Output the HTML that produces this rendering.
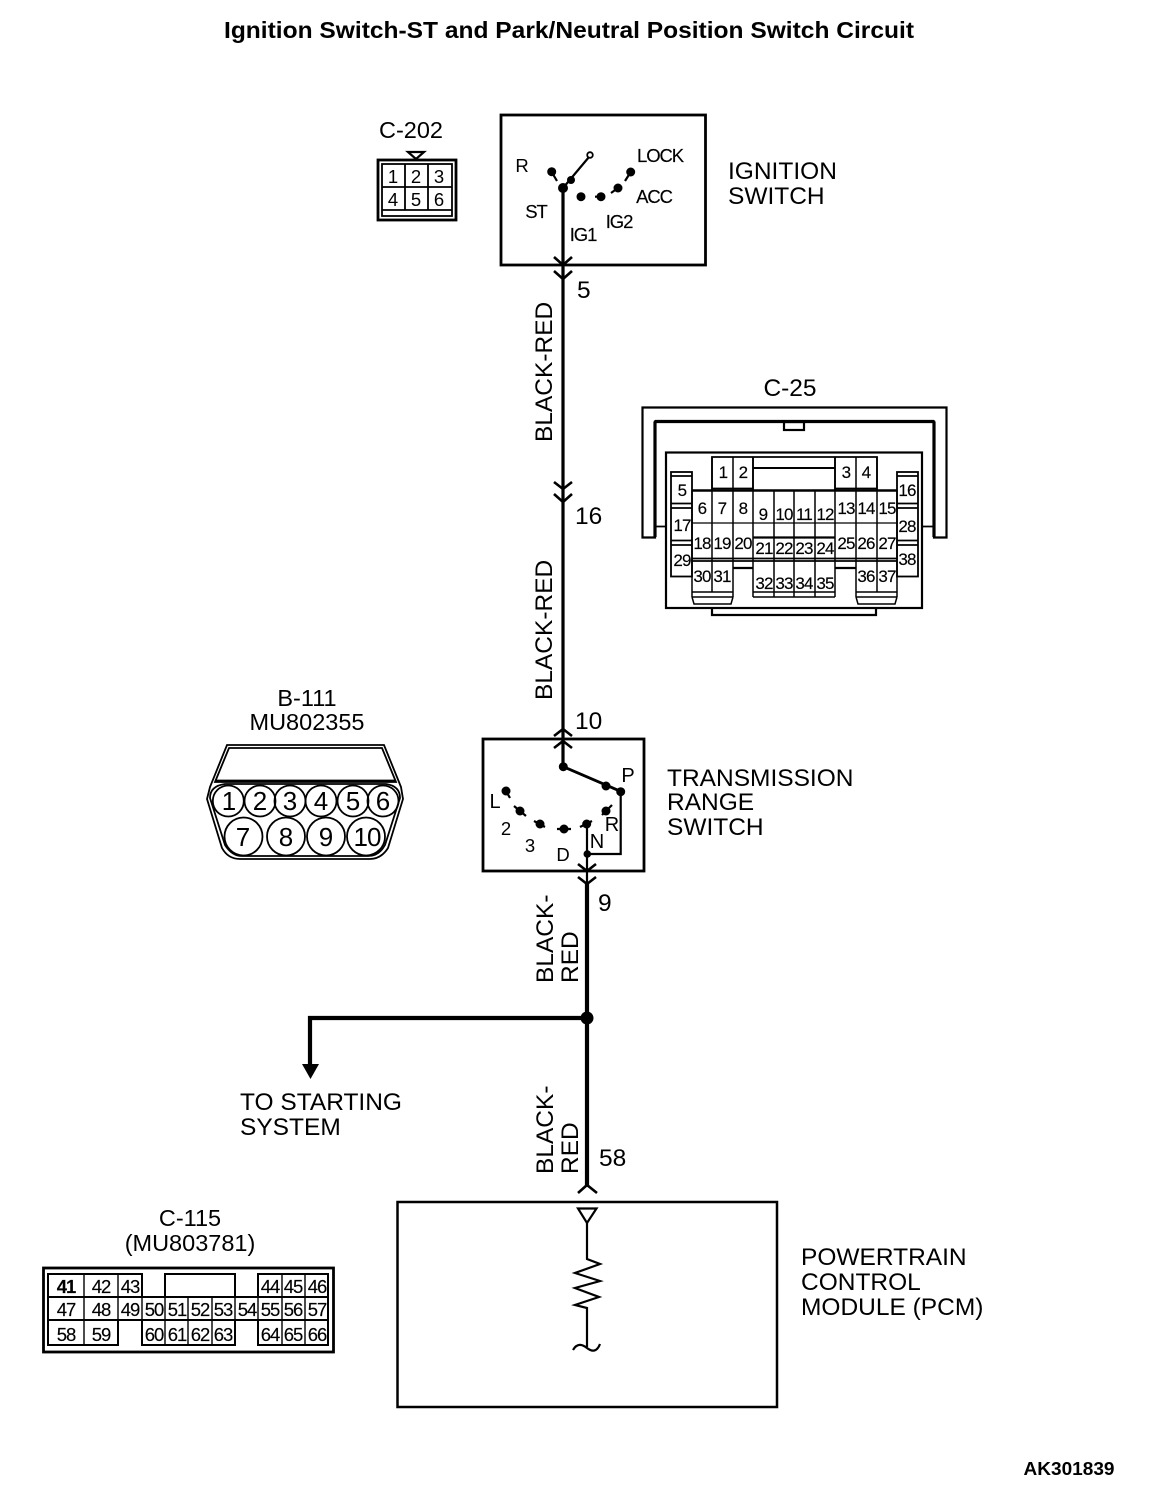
<!DOCTYPE html>
<html><head><meta charset="utf-8"><style>
html,body{margin:0;padding:0;background:#fff}
svg{display:block}
text{font-family:"Liberation Sans",sans-serif;fill:#000;stroke:none}
.l{font-size:24.500px}.c{font-size:24.500px;text-anchor:middle}
.s{font-size:18.500px;text-anchor:middle}
.t{font-size:17px;text-anchor:middle;letter-spacing:-.8px;stroke:#000;stroke-width:.15px}
.u{font-size:18.500px;text-anchor:middle;letter-spacing:-1.100px;stroke:#000;stroke-width:.15px}
.n{fill:none;stroke:#000}
</style></head><body>
<svg width="1152" height="1502" viewBox="0 0 1152 1502" xmlns="http://www.w3.org/2000/svg">
<rect width="1152" height="1502" fill="#fff"/>
<text x="569" y="38" text-anchor="middle" font-weight="bold" textLength="690" lengthAdjust="spacingAndGlyphs" style="font-size:23.500px">Ignition Switch-ST and Park/Neutral Position Switch Circuit</text>
<text x="1069" y="1475" text-anchor="middle" font-weight="bold" style="font-size:18px" textLength="91" lengthAdjust="spacingAndGlyphs">AK301839</text>

<!-- C-202 -->
<text class="c" x="411" y="138" style="font-size:23.500px">C-202</text>
<path d="M408 152H424L416 159Z" class="n" stroke-width="2.200"/>
<rect x="378" y="160" width="78" height="60" class="n" stroke-width="2.800"/>
<rect x="382" y="164" width="70" height="52" class="n" stroke-width="1.800"/>
<path d="M382 187H452M382 210H452M405 164V210M428 164V210" class="n" stroke-width="1.800"/>
<text class="s" x="393" y="183">1</text><text class="s" x="416" y="183">2</text><text class="s" x="439" y="183">3</text>
<text class="s" x="393" y="206">4</text><text class="s" x="416" y="206">5</text><text class="s" x="439" y="206">6</text>

<!-- Ignition switch -->
<rect x="501" y="115" width="204.500" height="150" class="n" stroke-width="2.800"/>
<path d="M563 188L589 157M551.700 172L557 181M581 196.700H584M595 196.700H601M618 188L611 193M630.700 172L625 181" class="n" stroke-width="2.200"/>
<circle cx="590" cy="155" r="2.800" class="n" stroke-width="1.800"/>
<g fill="#000"><circle cx="563" cy="188" r="5"/><circle cx="571" cy="180" r="4"/><circle cx="551.700" cy="171.700" r="4.500"/><circle cx="581" cy="196.700" r="4.500"/><circle cx="601" cy="196.700" r="4.500"/><circle cx="618" cy="188" r="4.500"/><circle cx="630.700" cy="172" r="4.500"/></g>
<text class="s" x="522" y="172">R</text>
<text class="u" x="536" y="218">ST</text>
<text class="u" x="583" y="241">IG1</text>
<text class="u" x="619" y="228">IG2</text>
<text class="u" x="654" y="203">ACC</text>
<text class="u" x="660" y="162">LOCK</text>
<text class="l" x="728" y="179">IGNITION</text>
<text class="l" x="728" y="204">SWITCH</text>

<!-- Main wire -->
<path d="M563 188V766" class="n" stroke-width="3.200"/>
<path d="M554 257L563 265L572 257M554 271L563 279L572 271M554 482L563 489L572 482M554 494L563 502L572 494M554 736L563 729L572 736M554 748L563 741L572 748" class="n" stroke-width="2.600"/>
<text class="l" x="577" y="298">5</text>
<text class="l" x="575" y="524">16</text>
<text class="l" x="575" y="729">10</text>
<text class="l" x="598" y="911">9</text>
<text class="l" x="599" y="1166">58</text>
<text class="l" transform="translate(552 442) rotate(-90)">BLACK-RED</text>
<text class="l" transform="translate(552 700) rotate(-90)">BLACK-RED</text>
<text class="l" transform="translate(553 983) rotate(-90)">BLACK-</text>
<text class="l" transform="translate(578 983) rotate(-90)">RED</text>
<text class="l" transform="translate(553 1174) rotate(-90)">BLACK-</text>
<text class="l" transform="translate(578 1174) rotate(-90)">RED</text>

<!-- C-25 -->
<text class="c" x="790" y="396">C-25</text>
<path d="M642.500 537.500V407.500H946.500V537.500H934V421.500H655V537.500Z" class="n" stroke-width="2.200"/>
<path d="M934 421.500H655" class="n" stroke-width="3.200"/>
<path d="M934 421.500V537M655 421.500V537" class="n" stroke-width="3.200"/>
<path d="M655 526.500H666M923 526.500H934" class="n" stroke-width="1.800"/>
<rect x="784" y="422" width="20" height="8" class="n" stroke-width="2.200"/>
<rect x="666" y="452.500" width="256" height="155.500" fill="#fff" stroke="#000" stroke-width="2.200"/>
<path d="M712 608V615H876V608" class="n" stroke-width="2.200"/>
<!-- top cells -->
<path d="M712 490V457H753V490M835 490V457H877V490M753 457H835" class="n" stroke-width="1.800"/>
<path d="M753 468H835" class="n" stroke-width="2"/>
<path d="M712 488.500H753M835 488.500H877" class="n" stroke-width="1.800"/>
<path d="M692 490.500H897" class="n" stroke-width="2.400"/>
<path d="M692 523H897" class="n" stroke-width="1.200"/>
<path d="M692 558.500H897M692 561H897" class="n" stroke-width="1.800"/>
<path d="M692 490V597M712 457V592M733 457V568M753 457V597M774 490V597M794 490V597M815 490V597M835 457V597M856 457V597M877 457V592M897 490V597" class="n" stroke-width="1.500"/>
<path d="M733 568H753M835 568H856" class="n" stroke-width="2.200"/>
<path d="M753 537.500H835" class="n" stroke-width="2.200"/>
<path d="M692 592H733M753 597H835M753 592H835M856 592H897" class="n" stroke-width="1.500"/>
<path d="M692 597L694 604H731L733 597M856 597L858 604H895L897 597M692 597H733M856 597H897M733 568V597" class="n" stroke-width="1.500"/>
<!-- side cells -->
<g stroke-width="1.800">
<rect x="671" y="472" width="21" height="104.500" class="n"/>
<rect x="897" y="472" width="21" height="104.500" class="n"/>
<path d="M671 476H692M671 503.500H692M671 508H692M671 540.500H692M671 545H692M897 476H918M897 503.500H918M897 508H918M897 540.500H918M897 545H918" class="n"/>
</g>
<text class="t" x="723" y="478">1</text><text class="t" x="743" y="478">2</text><text class="t" x="846" y="478">3</text><text class="t" x="866" y="478">4</text>
<text class="t" x="682" y="496">5</text><text class="t" x="907" y="496">16</text>
<text class="t" x="702" y="514">6</text><text class="t" x="722" y="514">7</text><text class="t" x="743" y="514">8</text>
<text class="t" x="763" y="520">9</text><text class="t" x="784" y="520">10</text><text class="t" x="804" y="520">11</text><text class="t" x="825" y="520">12</text>
<text class="t" x="846" y="514">13</text><text class="t" x="866" y="514">14</text><text class="t" x="887" y="514">15</text>
<text class="t" x="682" y="531">17</text><text class="t" x="907" y="532">28</text>
<text class="t" x="702" y="549">18</text><text class="t" x="722" y="549">19</text><text class="t" x="743" y="549">20</text>
<text class="t" x="764" y="554">21</text><text class="t" x="784" y="554">22</text><text class="t" x="804" y="554">23</text><text class="t" x="825" y="554">24</text>
<text class="t" x="846" y="549">25</text><text class="t" x="866" y="549">26</text><text class="t" x="887" y="549">27</text>
<text class="t" x="682" y="566">29</text><text class="t" x="907" y="565">38</text>
<text class="t" x="702" y="582">30</text><text class="t" x="722" y="582">31</text>
<text class="t" x="764" y="589">32</text><text class="t" x="784" y="589">33</text><text class="t" x="804" y="589">34</text><text class="t" x="825" y="589">35</text>
<text class="t" x="866" y="582">36</text><text class="t" x="887" y="582">37</text>

<!-- B-111 -->
<text class="c" x="307" y="706" style="font-size:23.500px">B-111</text>
<text class="c" x="307" y="730" style="font-size:23.500px">MU802355</text>
<path d="M227 745H384L401 787L403 799L388 848Q381 859 370 859H240Q228 859 222 848L207 799L210 787Z" class="n" stroke-width="1.800"/>
<path d="M229 748H382L396 782H215Z" class="n" stroke-width="1.800"/>
<path d="M216 781H395" class="n" stroke-width="2.800"/>
<path d="M225 784H386Q400 786 400 798L385 845Q379 856 368 856H242Q232 856 225 845L210 798Q210 786 225 784Z" class="n" stroke-width="1.800"/>
<g stroke-width="1.800">
<circle cx="228.300" cy="801" r="15.500" class="n" fill="#fff"/><circle cx="260" cy="801" r="15.500" class="n"/><circle cx="290" cy="801" r="15.500" class="n"/><circle cx="321" cy="801" r="15.500" class="n"/><circle cx="353" cy="801" r="15.500" class="n"/><circle cx="383" cy="801" r="15.500" class="n"/>
<circle cx="243.500" cy="836.500" r="19" class="n"/><circle cx="286" cy="836.500" r="19" class="n"/><circle cx="326" cy="836.500" r="19" class="n"/><circle cx="366" cy="836.500" r="19" class="n"/>
</g>
<g style="font-size:26px">
<text x="229" y="810" text-anchor="middle">1</text><text x="260" y="810" text-anchor="middle">2</text><text x="290" y="810" text-anchor="middle">3</text><text x="321" y="810" text-anchor="middle">4</text><text x="353" y="810" text-anchor="middle">5</text><text x="383" y="810" text-anchor="middle">6</text>
<text x="243" y="846" text-anchor="middle">7</text><text x="286" y="846" text-anchor="middle">8</text><text x="326" y="846" text-anchor="middle">9</text><text x="367" y="846" text-anchor="middle" letter-spacing="-1">10</text>
</g>

<!-- Transmission range switch -->
<rect x="483" y="739" width="161" height="132" class="n" stroke-width="2.800"/>
<path d="M563.300 766.700L620.700 791.700V854H587" class="n" stroke-width="2.200"/>
<path d="M563.300 766.700L620 791" class="n" stroke-width="2.800"/>
<path d="M506 791L510 798M514 806L526 816M534 821L545 827M557 829H571M580 827L592 821M602 815L612 805" class="n" stroke-width="2.200"/>
<g fill="#000"><circle cx="563.300" cy="766.700" r="4.500"/><circle cx="606" cy="786" r="4.500"/><circle cx="620.700" cy="791.700" r="4.500"/><circle cx="506" cy="791" r="4.500"/><circle cx="520" cy="811" r="4.500"/><circle cx="540" cy="824" r="4.500"/><circle cx="564" cy="829" r="4.500"/><circle cx="586.700" cy="824" r="4.500"/><circle cx="606" cy="811" r="4.500"/><circle cx="587.300" cy="854" r="3.800"/></g>
<path d="M587 824V854" class="n" stroke-width="2.200"/>
<text class="s" x="628" y="782" style="font-size:20px">P</text>
<text class="s" x="495" y="808" style="font-size:20px">L</text>
<text class="s" x="506" y="835">2</text>
<text class="s" x="530" y="852">3</text>
<text class="s" x="563" y="861">D</text>
<text class="s" x="597" y="848" style="font-size:20px">N</text>
<text class="s" x="612" y="831" style="font-size:20px">R</text>
<text class="l" x="667" y="786">TRANSMISSION</text>
<text class="l" x="667" y="810">RANGE</text>
<text class="l" x="667" y="835">SWITCH</text>

<!-- Lower wire -->
<path d="M587 854V1185" class="n" stroke-width="2.200"/>
<path d="M587 883V1187" class="n" stroke-width="4.200"/>
<path d="M578 864L587 871L596 864M578 877L587 884L596 877M578 1193L587 1185L597 1193" class="n" stroke-width="2.600"/>
<circle cx="587" cy="1018" r="6.500" fill="#000"/>
<path d="M587 1018H310V1066" class="n" stroke-width="4.200"/>
<path d="M302 1064H319L310.500 1079Z" fill="#000"/>
<text class="l" x="240" y="1110">TO STARTING</text>
<text class="l" x="240" y="1135">SYSTEM</text>

<!-- PCM -->
<rect x="397.500" y="1202" width="379.500" height="205" class="n" stroke-width="2.500"/>
<path d="M578 1208.500H596.500L587 1223Z" class="n" stroke-width="2.200"/>
<path d="M587 1223V1259L600 1264L575 1273L600 1281L575 1288L599 1297L575 1305L587 1308V1347M573 1350C577 1343 582 1344 587 1348C592 1352 597 1352 600 1344" class="n" stroke-width="2.200"/>
<text class="l" x="801" y="1265">POWERTRAIN</text>
<text class="l" x="801" y="1290">CONTROL</text>
<text class="l" x="801" y="1315">MODULE (PCM)</text>

<!-- C-115 -->
<text class="c" x="190" y="1226" style="font-size:23.500px">C-115</text>
<text class="c" x="190" y="1251" style="font-size:23.500px">(MU803781)</text>
<rect x="43.500" y="1268" width="290" height="84" class="n" stroke-width="2.800"/>
<path d="M48 1297V1274H142V1297M165 1297V1274H235V1297M258 1297V1274H328V1345H258V1320M235 1320V1345H142V1320M48 1297V1345H118V1320" class="n" stroke-width="2"/>
<path d="M48 1297H328M48 1320H328" class="n" stroke-width="2"/>
<path d="M84 1274V1345M118 1274V1320M142 1297V1345M165 1297V1345M188 1297V1345M212 1297V1345M235 1297V1320M258 1297V1345M282 1274V1345M305 1274V1345" class="n" stroke-width="1.400"/>
<g>
<text class="u" x="66" y="1293" font-weight="bold">41</text><text class="u" x="101" y="1293">42</text><text class="u" x="130" y="1293">43</text><text class="u" x="270" y="1293">44</text><text class="u" x="293" y="1293">45</text><text class="u" x="317" y="1293">46</text>
<text class="u" x="66" y="1316">47</text><text class="u" x="101" y="1316">48</text><text class="u" x="130" y="1316">49</text><text class="u" x="154" y="1316">50</text><text class="u" x="177" y="1316">51</text><text class="u" x="200" y="1316">52</text><text class="u" x="223" y="1316">53</text><text class="u" x="247" y="1316">54</text><text class="u" x="270" y="1316">55</text><text class="u" x="293" y="1316">56</text><text class="u" x="317" y="1316">57</text>
<text class="u" x="66" y="1341">58</text><text class="u" x="101" y="1341">59</text><text class="u" x="154" y="1341">60</text><text class="u" x="177" y="1341">61</text><text class="u" x="200" y="1341">62</text><text class="u" x="223" y="1341">63</text><text class="u" x="270" y="1341">64</text><text class="u" x="293" y="1341">65</text><text class="u" x="317" y="1341">66</text>
</g>
</svg>
</body></html>
